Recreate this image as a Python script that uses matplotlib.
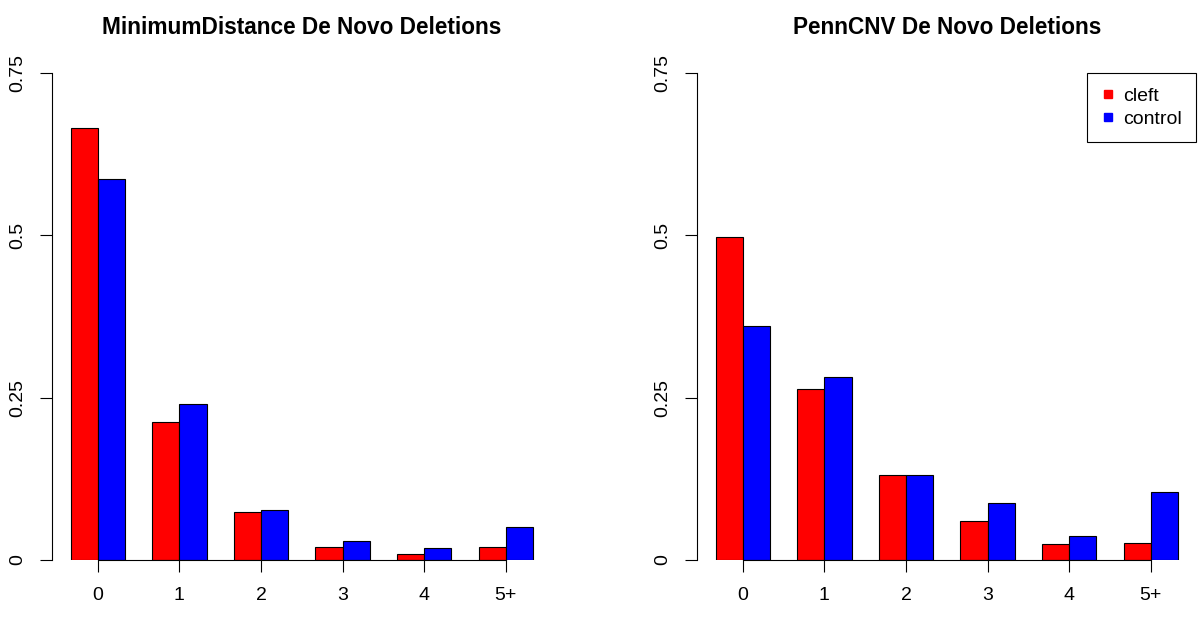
import matplotlib.pyplot as plt
import numpy as np
from matplotlib.lines import Line2D

plt.rcParams['font.family'] = ['Liberation Sans', 'DejaVu Sans']

categories = ['0', '1', '2', '3', '4', '5+']
md_cleft = [0.665, 0.212, 0.0743, 0.0196, 0.0087, 0.0196]
md_control = [0.586, 0.240, 0.077, 0.0285, 0.018, 0.051]
pc_cleft = [0.497, 0.264, 0.131, 0.0606, 0.024, 0.0263]
pc_control = [0.361, 0.282, 0.131, 0.0878, 0.0365, 0.105]

titles = ['MinimumDistance De Novo Deletions', 'PennCNV De Novo Deletions']
series = [(md_cleft, md_control), (pc_cleft, pc_control)]

fig = plt.figure(figsize=(12, 6.23), dpi=100)
W, H = 1200, 623
lefts = [52, 697]

# R-style barplot: each bar 1 wide, 1 unit gap between groups
centers = np.arange(len(categories)) * 3 + 2

for k in range(2):
    x0 = lefts[k]
    ax = fig.add_axes([x0 / W, 1 - 560 / H, 499.5 / W, (560 - 73) / H])
    cleft, control = series[k]
    ax.bar(centers - 0.5, cleft, width=1, color='#ff0000', edgecolor='black', linewidth=0.8)
    ax.bar(centers + 0.5, control, width=1, color='#0000ff', edgecolor='black', linewidth=0.8)
    ax.set_xlim(0.32, 18.68)
    ax.set_ylim(0, 0.75)
    for s in ['top', 'right']:
        ax.spines[s].set_visible(False)
    ax.spines['left'].set_bounds(0, 0.75)
    ax.spines['bottom'].set_bounds(centers[0], centers[-1])
    ax.spines['left'].set_linewidth(0.8)
    ax.spines['bottom'].set_linewidth(0.8)
    ax.set_xticks(centers)
    ax.set_xticklabels(categories)
    ax.set_yticks([0, 0.25, 0.5, 0.75])
    ax.set_yticklabels(['0', '0.25', '0.5', '0.75'], rotation=90, va='center')
    ax.tick_params(axis='x', length=8.6, width=0.8, pad=11, labelsize=14)
    ax.tick_params(axis='y', length=8.6, width=0.8, pad=10, labelsize=14)
    ax.patch.set_visible(False)
    fig.text((x0 + 249.75) / W, 1 - 27 / H, titles[k], ha='center', va='center',
             fontsize=16.3, fontweight='bold')
    if k == 1:
        handles = [Line2D([], [], marker='s', linestyle='none', color='#ff0000', markersize=6),
                   Line2D([], [], marker='s', linestyle='none', color='#0000ff', markersize=6)]
        leg = ax.legend(handles, ['cleft', 'control'], loc='upper right', fontsize=14,
                        frameon=True, fancybox=False, edgecolor='black', framealpha=1,
                        borderaxespad=0, handlelength=0.6, handletextpad=0.5,
                        borderpad=0.75, labelspacing=0.25)
        leg.get_frame().set_linewidth(0.8)

fig.savefig('out.png', dpi=100)
